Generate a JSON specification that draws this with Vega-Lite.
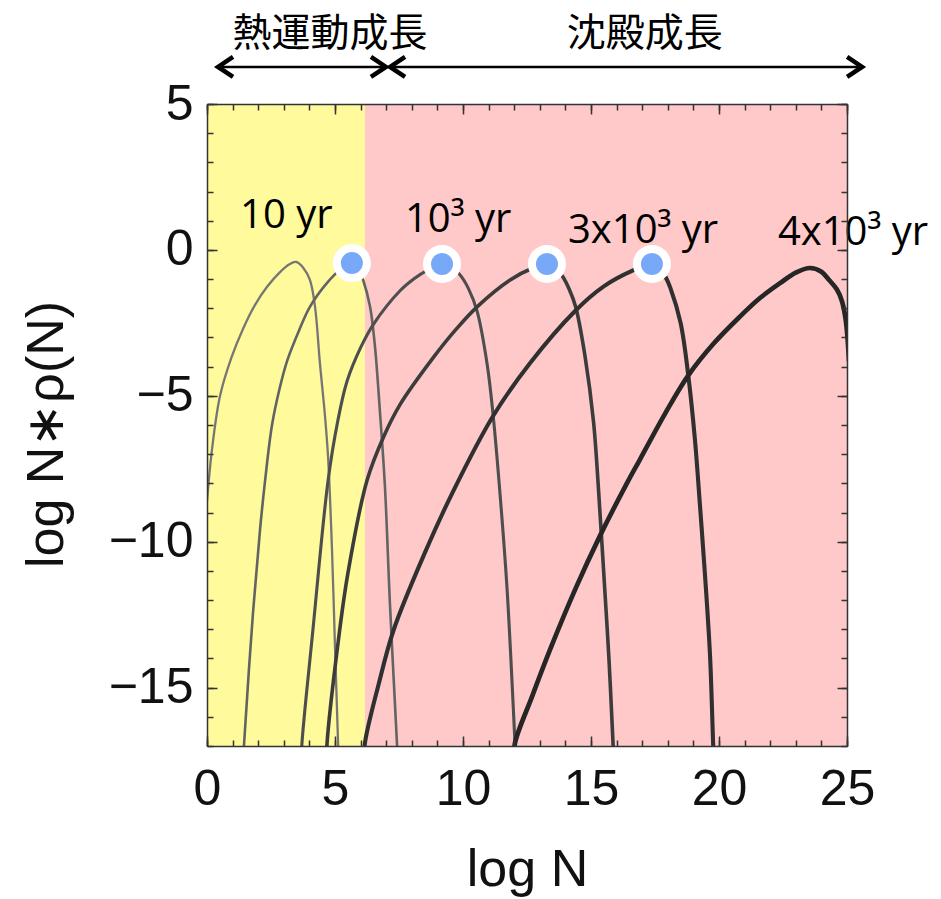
{
  "$schema": "https://vega.github.io/schema/vega-lite/v6.json",
  "width": 640,
  "height": 642,
  "autosize": {"type": "none"},
  "padding": {"left": 207, "top": 104, "right": 94, "bottom": 153},
  "background": "white",
  "config": {"view": {"stroke": null}, "axis": {"grid": false}},
  "resolve": {"axis": {"x": "independent", "y": "independent"}, "scale": {"color": "independent", "fill": "independent", "stroke": "independent"}},
  "datasets": {
    "regions": [
      {"r": "熱運動成長", "x": 0, "x2": 6.17},
      {"r": "沈殿成長", "x": 6.17, "x2": 25}
    ],
    "curves": [
      {"c": "A", "x": 0, "y": -8.6}, {"c": "A", "x": 0.2, "y": -6.8}, {"c": "A", "x": 0.51, "y": -5.0}, {"c": "A", "x": 0.95, "y": -3.7},
      {"c": "A", "x": 1.41, "y": -2.7}, {"c": "A", "x": 1.9, "y": -1.85}, {"c": "A", "x": 2.34, "y": -1.27}, {"c": "A", "x": 2.9, "y": -0.72},
      {"c": "A", "x": 3.2, "y": -0.5}, {"c": "A", "x": 3.48, "y": -0.41}, {"c": "A", "x": 3.75, "y": -0.6}, {"c": "A", "x": 4.02, "y": -1.03},
      {"c": "A", "x": 4.22, "y": -1.95}, {"c": "A", "x": 4.41, "y": -3.87}, {"c": "A", "x": 4.61, "y": -5.7}, {"c": "A", "x": 4.73, "y": -7.1},
      {"c": "A", "x": 4.88, "y": -10.2}, {"c": "A", "x": 5.0, "y": -13.6}, {"c": "A", "x": 5.12, "y": -16.9}, {"c": "A", "x": 5.14, "y": -17.5},

      {"c": "B", "x": 1.42, "y": -17.5}, {"c": "B", "x": 1.45, "y": -16.9}, {"c": "B", "x": 1.8, "y": -12.4}, {"c": "B", "x": 2.07, "y": -9.6},
      {"c": "B", "x": 2.27, "y": -7.9}, {"c": "B", "x": 2.54, "y": -6.0}, {"c": "B", "x": 2.85, "y": -4.7}, {"c": "B", "x": 3.13, "y": -3.8},
      {"c": "B", "x": 3.6, "y": -2.75}, {"c": "B", "x": 4.02, "y": -1.95}, {"c": "B", "x": 4.69, "y": -1.13}, {"c": "B", "x": 5.2, "y": -0.68},
      {"c": "B", "x": 5.66, "y": -0.45}, {"c": "B", "x": 5.9, "y": -0.62}, {"c": "B", "x": 6.1, "y": -1.03}, {"c": "B", "x": 6.37, "y": -1.95},
      {"c": "B", "x": 6.56, "y": -3.3}, {"c": "B", "x": 6.76, "y": -5.6}, {"c": "B", "x": 6.95, "y": -8.1}, {"c": "B", "x": 7.15, "y": -12.2},
      {"c": "B", "x": 7.42, "y": -16.9}, {"c": "B", "x": 7.45, "y": -17.5},

      {"c": "C", "x": 3.69, "y": -17.5}, {"c": "C", "x": 3.71, "y": -16.9}, {"c": "C", "x": 4.14, "y": -13.0}, {"c": "C", "x": 4.73, "y": -7.9},
      {"c": "C", "x": 5.1, "y": -5.9}, {"c": "C", "x": 5.47, "y": -4.5}, {"c": "C", "x": 6.0, "y": -3.35}, {"c": "C", "x": 6.5, "y": -2.55},
      {"c": "C", "x": 7.54, "y": -1.4}, {"c": "C", "x": 8.1, "y": -0.98}, {"c": "C", "x": 8.6, "y": -0.7}, {"c": "C", "x": 9.18, "y": -0.48},
      {"c": "C", "x": 9.5, "y": -0.56}, {"c": "C", "x": 9.88, "y": -0.85}, {"c": "C", "x": 10.2, "y": -1.3}, {"c": "C", "x": 10.55, "y": -2.1},
      {"c": "C", "x": 10.94, "y": -3.9}, {"c": "C", "x": 11.17, "y": -5.6}, {"c": "C", "x": 11.45, "y": -8.4}, {"c": "C", "x": 11.72, "y": -11.6},
      {"c": "C", "x": 12.03, "y": -16.9}, {"c": "C", "x": 12.06, "y": -17.5},

      {"c": "D", "x": 4.67, "y": -17.5}, {"c": "D", "x": 4.69, "y": -16.9}, {"c": "D", "x": 5.1, "y": -13.6}, {"c": "D", "x": 5.5, "y": -11.1},
      {"c": "D", "x": 6.25, "y": -7.9}, {"c": "D", "x": 6.9, "y": -6.4}, {"c": "D", "x": 7.54, "y": -5.3}, {"c": "D", "x": 8.83, "y": -3.7},
      {"c": "D", "x": 9.7, "y": -2.75}, {"c": "D", "x": 10.55, "y": -1.95}, {"c": "D", "x": 11.84, "y": -1.03}, {"c": "D", "x": 12.73, "y": -0.62},
      {"c": "D", "x": 13.28, "y": -0.48}, {"c": "D", "x": 13.6, "y": -0.6}, {"c": "D", "x": 13.9, "y": -0.92}, {"c": "D", "x": 14.15, "y": -1.35},
      {"c": "D", "x": 14.4, "y": -1.95}, {"c": "D", "x": 14.77, "y": -3.66}, {"c": "D", "x": 15.1, "y": -5.9}, {"c": "D", "x": 15.3, "y": -8.3},
      {"c": "D", "x": 15.5, "y": -11.1}, {"c": "D", "x": 15.7, "y": -14.0}, {"c": "D", "x": 15.86, "y": -16.9}, {"c": "D", "x": 15.89, "y": -17.5},

      {"c": "E", "x": 6.15, "y": -17.5}, {"c": "E", "x": 6.17, "y": -16.9}, {"c": "E", "x": 6.7, "y": -14.9}, {"c": "E", "x": 7.3, "y": -13.0},
      {"c": "E", "x": 8.5, "y": -10.4}, {"c": "E", "x": 9.6, "y": -8.3}, {"c": "E", "x": 11.17, "y": -5.7}, {"c": "E", "x": 12.6, "y": -3.9},
      {"c": "E", "x": 14.37, "y": -2.1}, {"c": "E", "x": 15.5, "y": -1.25}, {"c": "E", "x": 16.6, "y": -0.72}, {"c": "E", "x": 17.38, "y": -0.48},
      {"c": "E", "x": 17.7, "y": -0.62}, {"c": "E", "x": 17.9, "y": -0.9}, {"c": "E", "x": 18.1, "y": -1.3}, {"c": "E", "x": 18.5, "y": -2.5},
      {"c": "E", "x": 18.8, "y": -4.3}, {"c": "E", "x": 19.06, "y": -6.5}, {"c": "E", "x": 19.26, "y": -8.8}, {"c": "E", "x": 19.45, "y": -11.1},
      {"c": "E", "x": 19.65, "y": -13.9}, {"c": "E", "x": 19.77, "y": -16.9}, {"c": "E", "x": 19.8, "y": -17.5},

      {"c": "F", "x": 12.0, "y": -17.5}, {"c": "F", "x": 12.03, "y": -16.9}, {"c": "F", "x": 12.7, "y": -15.3}, {"c": "F", "x": 13.4, "y": -13.7},
      {"c": "F", "x": 14.4, "y": -11.6}, {"c": "F", "x": 15.35, "y": -9.8}, {"c": "F", "x": 16.4, "y": -8.0}, {"c": "F", "x": 16.9, "y": -7.2},
      {"c": "F", "x": 17.9, "y": -5.6}, {"c": "F", "x": 18.8, "y": -4.3}, {"c": "F", "x": 19.8, "y": -3.2}, {"c": "F", "x": 20.8, "y": -2.3},
      {"c": "F", "x": 21.6, "y": -1.65}, {"c": "F", "x": 22.4, "y": -1.13}, {"c": "F", "x": 23.0, "y": -0.78}, {"c": "F", "x": 23.55, "y": -0.62},
      {"c": "F", "x": 24.0, "y": -0.75}, {"c": "F", "x": 24.3, "y": -1.03}, {"c": "F", "x": 24.6, "y": -1.35}, {"c": "F", "x": 24.8, "y": -1.75},
      {"c": "F", "x": 24.95, "y": -2.4}, {"c": "F", "x": 25.08, "y": -3.8}
    ],
    "dots": [
      {"x": 5.66, "y": -0.45}, {"x": 9.18, "y": -0.48}, {"x": 13.28, "y": -0.48}, {"x": 17.38, "y": -0.48}
    ],
    "labels": [
      {"x": 1.29, "y": 0.75, "t": "10 yr"},
      {"x": 7.73, "y": 0.62, "t": "10³ yr"},
      {"x": 14.1, "y": 0.24, "t": "3x10³ yr"},
      {"x": 22.3, "y": 0.17, "t": "4x10³ yr"}
    ],
    "headers": [
      {"x": 4.8, "y": 7.4, "t": "熱運動成長"},
      {"x": 17.1, "y": 7.4, "t": "沈殿成長"}
    ],
    "arrows": [
      {"x": 0.43, "x2": 6.99, "y": 6.27},
      {"x": 7.15, "x2": 25.59, "y": 6.27}
    ],
    "headsR": [{"x": 6.99, "y": 6.27}, {"x": 25.59, "y": 6.27}],
    "headsL": [{"x": 0.43, "y": 6.27}, {"x": 7.15, "y": 6.27}]
  },
  "layer": [
    {
      "data": {"name": "regions"},
      "mark": {"type": "rect"},
      "encoding": {
        "x": {"field": "x", "type": "quantitative", "scale": {"domain": [0, 25], "nice": false, "zero": false}, "axis": null},
        "x2": {"field": "x2"},
        "y": {"datum": -17, "type": "quantitative", "scale": {"domain": [-17, 5], "nice": false, "zero": false}, "axis": null},
        "y2": {"datum": 5},
        "fill": {"field": "r", "type": "nominal", "scale": {"domain": ["熱運動成長", "沈殿成長"], "range": ["#fffa9b", "#ffc9c9"]}, "legend": null}
      }
    },
    {
      "data": {"name": "curves"},
      "mark": {"type": "line", "interpolate": "catmull-rom", "clip": true, "strokeCap": "round"},
      "encoding": {
        "x": {"field": "x", "type": "quantitative", "scale": {"domain": [0, 25], "nice": false, "zero": false},
          "axis": {"orient": "bottom", "values": [0, 5, 10, 15, 20, 25], "format": "d", "tickSize": -10, "tickWidth": 1.5, "tickColor": "#333",
            "domain": true, "domainColor": "#333", "domainWidth": 1.5, "labelFont": "Liberation Sans", "labelFontSize": 50, "labelColor": "#111",
            "labelPadding": 28, "labelFlush": false, "labelOverlap": false, "title": "log N", "titleFont": "Liberation Sans", "titleFontSize": 52,
            "titleFontWeight": "normal", "titleColor": "#111", "titleY": 139, "titleBaseline": "alphabetic", "grid": false, "zindex": 1}},
        "y": {"field": "y", "type": "quantitative", "scale": {"domain": [-17, 5], "nice": false, "zero": false},
          "axis": {"orient": "left", "values": [-15, -10, -5, 0, 5], "format": "d", "tickSize": -10, "tickWidth": 1.5, "tickColor": "#333",
            "domain": true, "domainColor": "#333", "domainWidth": 1.5, "labelFont": "Liberation Sans", "labelFontSize": 50, "labelColor": "#111",
            "labelPadding": 24, "labelFlush": false, "labelOverlap": false, "title": "log  N∗ρ(N)", "titleFont": "Liberation Sans", "titleFontSize": 52,
            "titleFontWeight": "normal", "titleColor": "#111", "titleX": -145, "titleY": 330, "titleAngle": -90, "titleAlign": "center",
            "titleBaseline": "alphabetic", "grid": false, "zindex": 1}},
        "stroke": {"field": "c", "type": "nominal", "scale": {"domain": ["A", "B", "C", "D", "E", "F"], "range": ["#767676", "#636363", "#4e4e4e", "#3c3c3c", "#303030", "#262626"]}, "legend": null},
        "strokeWidth": {"field": "c", "type": "ordinal", "scale": {"type": "ordinal", "domain": ["A", "B", "C", "D", "E", "F"], "range": [2.3, 2.6, 3.1, 3.6, 4.1, 4.7]}, "legend": null}
      }
    },
    {
      "data": {"name": "dots"},
      "mark": {"type": "point", "shape": "circle", "filled": true, "fill": "#78a9f9", "stroke": "white", "strokeWidth": 8, "size": 900, "opacity": 1},
      "encoding": {
        "x": {"field": "x", "type": "quantitative", "scale": {"domain": [0, 25], "nice": false, "zero": false},
          "axis": {"orient": "top", "values": [0, 5, 10, 15, 20, 25], "tickSize": -10, "tickWidth": 1.5, "tickColor": "#333", "domain": true,
            "domainColor": "#333", "domainWidth": 1.5, "labels": false, "title": null, "grid": false, "zindex": 1}},
        "y": {"field": "y", "type": "quantitative", "scale": {"domain": [-17, 5], "nice": false, "zero": false},
          "axis": {"orient": "right", "values": [-15, -10, -5, 0, 5], "tickSize": -10, "tickWidth": 1.5, "tickColor": "#333", "domain": true,
            "domainColor": "#333", "domainWidth": 1.5, "labels": false, "title": null, "grid": false, "zindex": 1}}
      }
    },
    {
      "data": {"name": "labels"},
      "mark": {"type": "text", "font": "Open Sans", "fontSize": 40, "align": "left", "baseline": "alphabetic", "color": "#000"},
      "encoding": {
        "x": {"field": "x", "type": "quantitative", "scale": {"domain": [0, 25], "nice": false, "zero": false},
          "axis": {"orient": "bottom", "values": [0, 1, 2, 3, 4, 5, 6, 7, 8, 9, 10, 11, 12, 13, 14, 15, 16, 17, 18, 19, 20, 21, 22, 23, 24, 25],
            "tickSize": -6, "tickWidth": 1.5, "tickColor": "#333", "domain": false, "labels": false, "title": null, "grid": false, "zindex": 1}},
        "y": {"field": "y", "type": "quantitative", "scale": {"domain": [-17, 5], "nice": false, "zero": false},
          "axis": {"orient": "left", "values": [-17, -16, -15, -14, -13, -12, -11, -10, -9, -8, -7, -6, -5, -4, -3, -2, -1, 0, 1, 2, 3, 4, 5],
            "tickSize": -6, "tickWidth": 1.5, "tickColor": "#333", "domain": false, "labels": false, "title": null, "grid": false, "zindex": 1}},
        "text": {"field": "t"}
      }
    },
    {
      "data": {"name": "headers"},
      "mark": {"type": "text", "font": "Noto Sans CJK JP", "fontSize": 39, "align": "center", "baseline": "middle", "color": "#000"},
      "encoding": {
        "x": {"field": "x", "type": "quantitative", "scale": {"domain": [0, 25], "nice": false, "zero": false},
          "axis": {"orient": "top", "values": [0, 1, 2, 3, 4, 5, 6, 7, 8, 9, 10, 11, 12, 13, 14, 15, 16, 17, 18, 19, 20, 21, 22, 23, 24, 25],
            "tickSize": -6, "tickWidth": 1.5, "tickColor": "#333", "domain": false, "labels": false, "title": null, "grid": false, "zindex": 1}},
        "y": {"field": "y", "type": "quantitative", "scale": {"domain": [-17, 5], "nice": false, "zero": false},
          "axis": {"orient": "right", "values": [-17, -16, -15, -14, -13, -12, -11, -10, -9, -8, -7, -6, -5, -4, -3, -2, -1, 0, 1, 2, 3, 4, 5],
            "tickSize": -6, "tickWidth": 1.5, "tickColor": "#333", "domain": false, "labels": false, "title": null, "grid": false, "zindex": 1}},
        "text": {"field": "t"}
      }
    },
    {
      "data": {"name": "arrows"},
      "mark": {"type": "rule", "strokeWidth": 2.5, "color": "#000"},
      "encoding": {
        "x": {"field": "x", "type": "quantitative", "scale": {"domain": [0, 25], "nice": false, "zero": false}, "axis": null},
        "x2": {"field": "x2"},
        "y": {"field": "y", "type": "quantitative", "scale": {"domain": [-17, 5], "nice": false, "zero": false}, "axis": null}
      }
    },
    {
      "data": {"name": "headsR"},
      "mark": {"type": "point", "shape": "M-1.5,-1L0,0L-1.5,1", "filled": false, "color": "#000", "strokeWidth": 4.5, "size": 400, "opacity": 1, "strokeJoin": "miter"},
      "encoding": {
        "x": {"field": "x", "type": "quantitative", "scale": {"domain": [0, 25], "nice": false, "zero": false}, "axis": null},
        "y": {"field": "y", "type": "quantitative", "scale": {"domain": [-17, 5], "nice": false, "zero": false}, "axis": null}
      }
    },
    {
      "data": {"name": "headsL"},
      "mark": {"type": "point", "shape": "M1.5,-1L0,0L1.5,1", "filled": false, "color": "#000", "strokeWidth": 4.5, "size": 400, "opacity": 1, "strokeJoin": "miter"},
      "encoding": {
        "x": {"field": "x", "type": "quantitative", "scale": {"domain": [0, 25], "nice": false, "zero": false}, "axis": null},
        "y": {"field": "y", "type": "quantitative", "scale": {"domain": [-17, 5], "nice": false, "zero": false}, "axis": null}
      }
    }
  ]
}
